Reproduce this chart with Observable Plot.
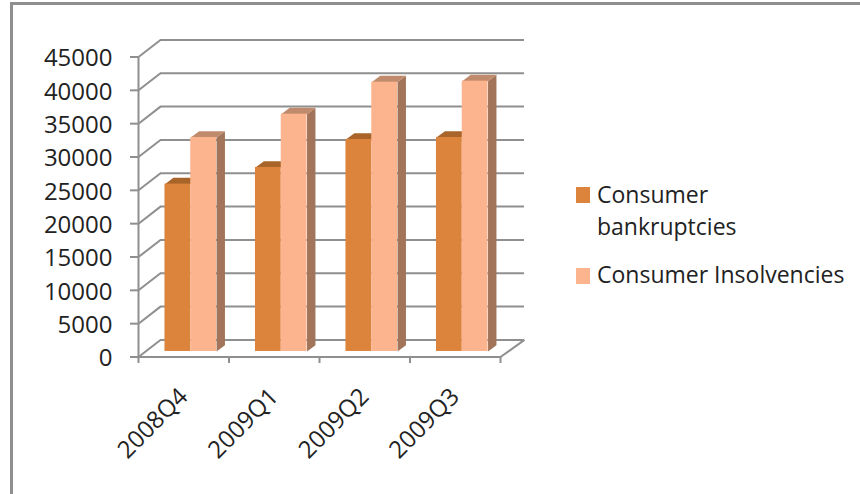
<!DOCTYPE html>
<html>
<head>
<meta charset="utf-8">
<script src="https://cdn.jsdelivr.net/npm/d3@7"></script>
<script src="https://cdn.jsdelivr.net/npm/@observablehq/plot@0.6"></script>
<style>
  html, body { margin: 0; padding: 0; background: #fff; }
  #page { position: relative; width: 860px; height: 494px; overflow: hidden; }
  #frame { position: absolute; left: 10px; top: 2px; width: 900px; height: 600px;
           border: 3px solid #8f8f8f; box-sizing: border-box; }
  #chart { position: absolute; left: 0; top: 0; }
  #chart svg { background: transparent; }
  .legend { position: absolute; font: 23px/32px "Open Sans", sans-serif; color: #222; white-space: nowrap; }
  .swatch { position: absolute; width: 14px; height: 16px; }
</style>
</head>
<body>
<div id="page">
  <div id="frame"></div>
  <div id="chart"></div>
</div>
<script>
const quarters = ["2008Q4", "2009Q1", "2009Q2", "2009Q3"];
const seriesNames = ["Consumer bankruptcies", "Consumer Insolvencies"];
const bankruptcies = [25100, 27600, 31800, 32100];
const insolvencies = [32100, 35600, 40400, 40550];
const yTicks = [0, 5000, 10000, 15000, 20000, 25000, 30000, 35000, 40000, 45000];

// Colours of each series: front, top and side faces.
const faces = [
  {front: "#dc843c", top: "#a9642a", side: "#a9642a"},
  {front: "#fbb48e", top: "#c08a6c", side: "#a2755a"}
];
const gridColor = "#8f8f8f";
const inkColor = "#222";

// Depth of the box and of the columns, in scale units (categories, counts).
const wallDx = 0.243, wallDy = 2560, wallRightDx = 0.265;
const barDx = 0.093, barDy = 950;
const planeDx = 0.0773, planeDy = 830;   // the column front sits this far into the box
const barW = 0.285;

const rows = quarters.flatMap((q, i) => [bankruptcies[i], insolvencies[i]].map((v, s) => {
  const x1 = i + 0.5 + planeDx + (s - 1) * barW;
  return {q, s, v, x1, x2: x1 + barW, base: planeDy, top: v + planeDy};
}));

// Closed outlines for the shaded faces of each column.
const topFaces = rows.flatMap((r, id) => [
  [r.x1, r.top], [r.x2, r.top], [r.x2 + barDx, r.top + barDy], [r.x1 + barDx, r.top + barDy]
].map(([x, y]) => ({id, s: r.s, x, y})));
const sideFaces = rows.filter(r => r.s === 1).flatMap((r, id) => [
  [r.x2, r.base], [r.x2 + barDx, r.base + barDy], [r.x2 + barDx, r.top + barDy], [r.x2, r.top]
].map(([x, y]) => ({id, s: r.s, x, y})));

const font = '"Open Sans", sans-serif';
const line = {stroke: gridColor, strokeWidth: 2, strokeOpacity: 1};
const chart = Plot.plot({
  width: 860,
  height: 494,
  marginLeft: 138,
  marginRight: 360,
  marginTop: 56,
  marginBottom: 138,
  style: {background: "transparent", fontFamily: font, color: inkColor},
  x: {domain: [0, 4], range: [138, 500]},
  y: {domain: [0, 45000], range: [356.5, 56.5]},
  marks: [
    // Back wall grid and the diagonals joining it to the axis
    Plot.ruleY(yTicks, {x1: wallDx, x2: 4 + wallRightDx, y: d => d + wallDy, ...line}),
    Plot.link(yTicks, {x1: 0, y1: d => d, x2: wallDx, y2: d => d + wallDy, ...line}),
    Plot.link([0], {x1: 4, y1: 0, x2: 4 + wallRightDx, y2: wallDy, ...line}),
    // Axis lines
    Plot.ruleX([0], {y1: 0, y2: 45000, ...line}),
    Plot.ruleY([0], {x1: 0, x2: 4, ...line}),
    Plot.axisY({ticks: yTicks, tickSize: 8, tickFormat: () => "", label: null, ...line}),
    Plot.axisY({ticks: yTicks, tickSize: 0, tickPadding: 26, fontSize: 24, dy: 1.5, stroke: "none",
                tickFormat: d => String(d), label: null, fill: inkColor}),
    Plot.axisX({ticks: [0, 1, 2, 3, 4], tickSize: 7, tickFormat: () => "", label: null, ...line}),
    Plot.axisX({ticks: [0.5, 1.5, 2.5, 3.5], tickSize: 0, tickPadding: 36, tickRotate: -45, fontSize: 24, stroke: "none",
                tickFormat: d => quarters[d - 0.5], label: null, fill: inkColor}),
    // Columns
    Plot.line(sideFaces, {x: "x", y: "y", z: "id", fill: d => faces[d.s].side, stroke: "none"}),
    Plot.line(topFaces, {x: "x", y: "y", z: "id", fill: d => faces[d.s].top, stroke: "none"}),
    Plot.rect(rows, {x1: "x1", x2: "x2", y1: "base", y2: "top", fill: d => faces[d.s].front})
  ]
});
document.getElementById("chart").append(chart);

// Legend placed to the right of the plot
const page = document.getElementById("page");
const addLegend = (label, color, swatchTop, textTop) => {
  const sw = document.createElement("div");
  sw.className = "swatch";
  sw.style.cssText = `left:576px;top:${swatchTop}px;background:${color}`;
  page.append(sw);
  const t = document.createElement("div");
  t.className = "legend";
  t.style.cssText = `left:597px;top:${textTop}px`;
  t.innerHTML = label;
  page.append(t);
};
addLegend(seriesNames[0].replace(" ", "<br>"), faces[0].front, 187, 178);
addLegend(seriesNames[1], faces[1].front, 268, 258);
</script>
</body>
</html>
